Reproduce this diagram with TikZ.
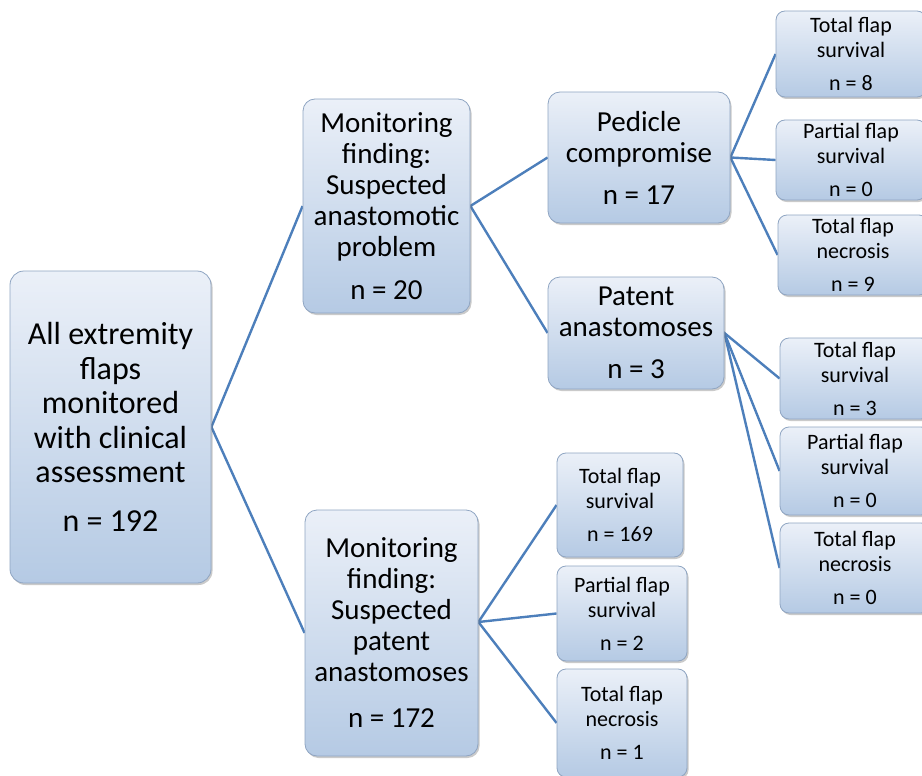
\documentclass[tikz,border=0pt]{standalone}
\usepackage{fontspec}
\setmainfont{Carlito}
\usetikzlibrary{shadows,backgrounds}
\definecolor{boxtop}{HTML}{EBF0F8}
\definecolor{boxbottom}{HTML}{B5CAE4}
\definecolor{boxedge}{HTML}{8FA5C2}
\definecolor{linkblue}{HTML}{4D7FBB}

\begin{document}
\begin{tikzpicture}[x=1pt,y=-1pt,
  flapbox/.style={draw=boxedge,line width=0.8pt,rounded corners=9pt,top color=boxtop,bottom color=boxbottom,
    drop shadow={shadow xshift=1.5pt,shadow yshift=-2pt,opacity=0.35,fill=black!60},align=flush center,inner sep=0pt},
  bigbox/.style={flapbox,font=\fontsize{32}{34.5}\selectfont,rounded corners=14pt},
  midbox/.style={flapbox,font=\fontsize{29}{31}\selectfont,rounded corners=12pt},
  smallbox/.style={flapbox,font=\fontsize{22}{25}\selectfont},
  link/.style={draw=linkblue,line width=2.4pt}]
  \useasboundingbox (0,0) rectangle (922,776);

  % root
  \node[bigbox,text width=201pt,minimum height=312pt] (all) at (110.5,427)
    {All extremity\\flaps\\monitored\\with clinical\\assessment\\[14pt]n = 192};

  % monitoring findings
  \node[midbox,text width=167pt,minimum height=214pt] (problem) at (386.5,206)
    {Monitoring\\finding:\\Suspected\\anastomotic\\problem\\[12pt]n = 20};
  \node[midbox,text width=173pt,minimum height=246pt] (patentfind) at (391.5,633)
    {Monitoring\\finding:\\Suspected\\patent\\anastomoses\\[15pt]n = 172};

  % exploration
  \node[midbox,text width=182pt,minimum height=131pt] (pedicle) at (639,157.5)
    {Pedicle\\compromise\\[11pt]n = 17};
  \node[midbox,text width=176pt,minimum height=112pt] (patent) at (636,333)
    {Patent\\anastomoses\\[11pt]n = 3};

  % outcomes after pedicle compromise
  \node[smallbox,text width=150pt,minimum height=86pt] (pcsurv) at (851,54)
    {Total flap\\survival\\[8pt]n = 8};
  \node[smallbox,text width=150pt,minimum height=80pt] (pcpart) at (851,160)
    {Partial flap\\survival\\[8pt]n = 0};
  \node[smallbox,text width=150pt,minimum height=80pt] (pcnecr) at (853,255)
    {Total flap\\necrosis\\[8pt]n = 9};

  % outcomes after patent anastomoses
  \node[smallbox,text width=150pt,minimum height=81pt] (pasurv) at (855,378.5)
    {Total flap\\survival\\[8pt]n = 3};
  \node[smallbox,text width=150pt,minimum height=88pt] (papart) at (855,471)
    {Partial flap\\survival\\[8pt]n = 0};
  \node[smallbox,text width=150pt,minimum height=90pt] (panecr) at (855,568)
    {Total flap\\necrosis\\[8pt]n = 0};

  % outcomes with patent finding
  \node[smallbox,text width=126pt,minimum height=104pt] (ptsurv) at (620,505)
    {Total flap\\survival\\[8pt]n = 169};
  \node[smallbox,text width=130pt,minimum height=95pt] (ptpart) at (622,613.5)
    {Partial flap\\survival\\[8pt]n = 2};
  \node[smallbox,text width=130pt,minimum height=108pt] (ptnecr) at (622,723)
    {Total flap\\necrosis\\[8pt]n = 1};

  \begin{scope}[on background layer]
    \draw[link] (problem.west) -- (all.east) -- (patentfind.west);
    \draw[link] (pedicle.west) -- (problem.east) -- (patent.west);
    \draw[link] (pcsurv.west) -- (pedicle.east) -- (pcnecr.west);
    \draw[link] (pedicle.east) -- (pcpart.west);
    \draw[link] (pasurv.west) -- (patent.east) -- (panecr.west);
    \draw[link] (patent.east) -- (papart.west);
    \draw[link] (ptsurv.west) -- ([yshift=11pt]patentfind.east) -- (ptnecr.west);
    \draw[link] ([yshift=11pt]patentfind.east) -- (ptpart.west);
  \end{scope}
\end{tikzpicture}
\end{document}
